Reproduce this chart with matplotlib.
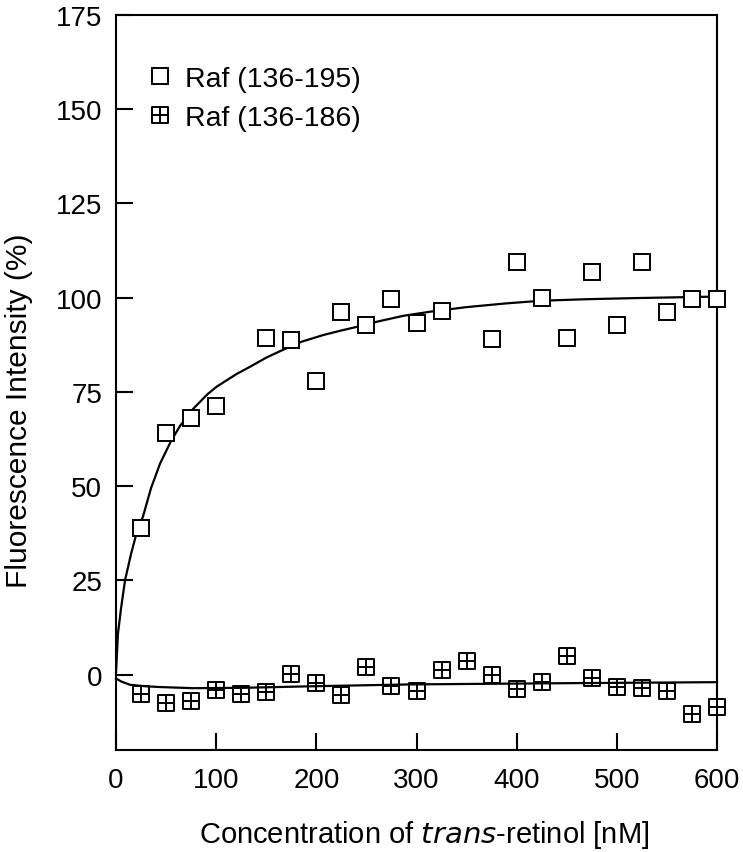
import matplotlib
matplotlib.use("Agg")
import matplotlib.pyplot as plt
from matplotlib.path import Path
from matplotlib.markers import MarkerStyle

plt.rcParams['font.family'] = ['Liberation Sans', 'DejaVu Sans']

# Raf (136-195), open squares
conc_195 = [25, 50, 75, 100, 150, 175, 200, 225, 250, 275, 300, 325,
            375, 400, 425, 450, 475, 500, 525, 550, 575, 600]
fluor_195 = [39, 64, 68, 71.3, 89.3, 88.7, 78, 96.2, 92.7, 99.7, 93.2, 96.5,
             89, 109.5, 100, 89.3, 106.8, 92.8, 109.5, 96.3, 99.7, 99.7]

# Raf (136-186), crossed squares
conc_186 = [25, 50, 75, 100, 125, 150, 175, 200, 225, 250, 275, 300,
            325, 350, 375, 400, 425, 450, 475, 500, 525, 550, 575, 600]
fluor_186 = [-5.2, -7.6, -6.9, -4.2, -5.1, -4.5, 0.2, -2.1, -5.5, 2.0, -3.0, -4.4,
             1.2, 3.7, -0.2, -3.8, -2.0, 5.0, -0.9, -3.4, -3.6, -4.4, -10.4, -8.6]

# fitted curves
fit_x_195 = [0, 2, 5, 9, 15, 20, 27, 35, 44, 55, 64, 77, 91, 100, 110, 120, 134,
             150, 167, 185, 207, 225, 241, 260, 287, 314, 350, 390, 425, 470, 520, 600]
fit_y_195 = [0.5, 11, 17.5, 25, 32, 37, 42, 49.5, 56, 62, 66, 70.5, 74.3, 76.3, 78,
             79.7, 81.7, 84.1, 86.2, 88.3, 90.1, 91.3, 92.3, 93.6, 95.2, 96.3,
             97.5, 98.5, 99.2, 99.6, 99.9, 100.3]
fit_x_186 = [0, 5, 14, 30, 44, 77, 127, 194, 294, 437, 600]
fit_y_186 = [-1.0, -1.8, -2.7, -3.1, -3.3, -3.6, -3.5, -3.1, -2.6, -2.3, -2.0]

# square with a cross inside
box_cross = Path([(-1, -1), (1, -1), (1, 1), (-1, 1), (-1, -1),
                  (0, -1), (0, 1), (-1, 0), (1, 0)],
                 [Path.MOVETO, Path.LINETO, Path.LINETO, Path.LINETO, Path.CLOSEPOLY,
                  Path.MOVETO, Path.LINETO, Path.MOVETO, Path.LINETO])

fig = plt.figure(figsize=(7.43, 8.53), dpi=100)
ax = fig.add_axes([116 / 743, 102 / 853, 601 / 743, 735 / 853])

ax.plot(fit_x_195, fit_y_195, color='black', lw=1.6, zorder=2, clip_on=False)
h1, = ax.plot(conc_195, fluor_195, ls='none', marker='s', ms=12, mew=1.4,
              mfc='white', mec='black', zorder=3, clip_on=False, label='Raf (136-195)')
h2, = ax.plot(conc_186, fluor_186, ls='none', marker=MarkerStyle(box_cross), ms=12, mew=1.4,
              mfc='white', mec='black', zorder=3, clip_on=False, label='Raf (136-186)')
ax.plot(fit_x_186, fit_y_186, color='black', lw=1.6, zorder=4, clip_on=False)

ax.set_xlim(0, 600)
ax.set_ylim(-20, 175)
ax.set_xticks([0, 100, 200, 300, 400, 500, 600])
ax.set_yticks([0, 25, 50, 75, 100, 125, 150, 175])

for s in ax.spines.values():
    s.set_linewidth(1.5)
ax.tick_params(direction='in', length=12, width=1.5, labelsize=20,
               top=False, right=False)
ax.tick_params(axis='y', pad=10)
ax.tick_params(axis='x', pad=12)

ax.set_xlabel('Concentration of $\\it{trans}$-retinol [nM]', fontsize=21)
ax.set_ylabel('Fluorescence Intensity (%)', fontsize=21.5)
ax.xaxis.set_label_coords(0.5125, -0.093)
ax.yaxis.set_label_coords(-0.138, 0.4626)

ax.legend(handles=[h1, h2], loc='upper left', bbox_to_anchor=(0.054, 0.930),
          frameon=False, fontsize=20.5, handlelength=0.8, handletextpad=0.5,
          labelspacing=0.43, borderpad=0, borderaxespad=0, markerscale=0.95)

fig.savefig('out.png', dpi=100)
